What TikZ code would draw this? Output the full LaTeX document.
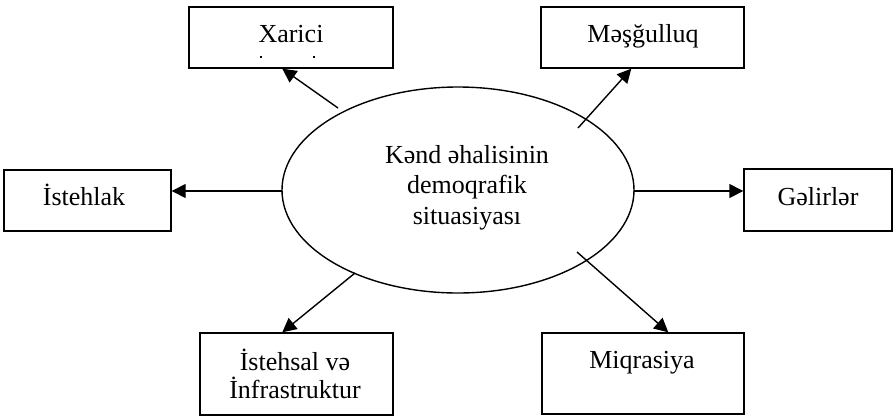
\documentclass[tikz,border=0pt]{standalone}
\usepackage{fontspec}
\setmainfont{Liberation Serif}
\usetikzlibrary{arrows.meta,shapes.geometric,calc,shadows}
\begin{document}
\begin{tikzpicture}[x=1pt,y=-1pt,
  box/.style={draw,line width=1.4pt,rectangle,inner sep=0pt,fill=white,
    drop shadow={shadow xshift=1.3pt,shadow yshift=-1.3pt,fill=black!35,opacity=1}},
  lbl/.style={anchor=base,inner sep=0pt,font=\fontsize{26}{30}\selectfont},
  arr/.style={line width=1.4pt,-{Triangle[length=14pt,width=14pt]}}]
\useasboundingbox (0,0) rectangle (893,416);

% boxes
\node[box,minimum width=204pt,minimum height=61pt] (xarici) at (291,37.5) {};
\node[box,minimum width=203pt,minimum height=61pt] (mesg) at (642.5,37.5) {};
\node[box,minimum width=167pt,minimum height=61pt] (isteh) at (87.5,200.5) {};
\node[box,minimum width=148pt,minimum height=62pt] (gelir) at (818,200) {};
\node[box,minimum width=193pt,minimum height=82pt] (istehsal) at (296.5,374) {};
\node[box,minimum width=202pt,minimum height=81pt] (miq) at (643,373.5) {};

% box texts
\node[lbl] (t1) at (291,42) {Xarici};
\fill (260,56) rectangle (262,58);
\fill (313,56) rectangle (315,58);
\node[lbl] (t2) at (643,42) {Məşğulluq};
\node[lbl] (t3) at (84,205) {İstehlak};
\node[lbl] (t4) at (818,205) {Gəlirlər};
\node[lbl] (t5) at (295,370) {İstehsal və};
\node[lbl] (t6) at (295,398) {İnfrastruktur};
\node[lbl] (t7) at (642,368) {Miqrasiya};

% central ellipse
\node[draw,ellipse,line width=1.4pt,minimum width=352pt,minimum height=206pt,inner sep=0pt] (center) at (458,190) {};
\node[lbl] (c1) at (467,163) {Kənd əhalisinin};
\node[lbl] (c2) at (467,193) {demoqrafik};
\node[lbl] (c3) at (467,224) {situasiyası};

% arrow starts
\coordinate (s1) at (338,108);
\coordinate (s2) at (578,128);
\coordinate (s3) at (282,191);
\coordinate (s4) at (634,191);
\coordinate (s5) at (355,273);
\coordinate (s6) at (577,252);

\draw[arr] (s1) -- ([xshift=94pt]xarici.south west);
\draw[arr] (s2) -- ([xshift=91pt]mesg.south west);
\draw[arr] (s3) -- (s3 -| isteh.east);
\draw[arr] (s4) -- (s4 -| gelir.west);
\draw[arr] (s5) -- ([xshift=83pt]istehsal.north west);
\draw[arr] (s6) -- ([xshift=127pt]miq.north west);
\end{tikzpicture}
\end{document}
